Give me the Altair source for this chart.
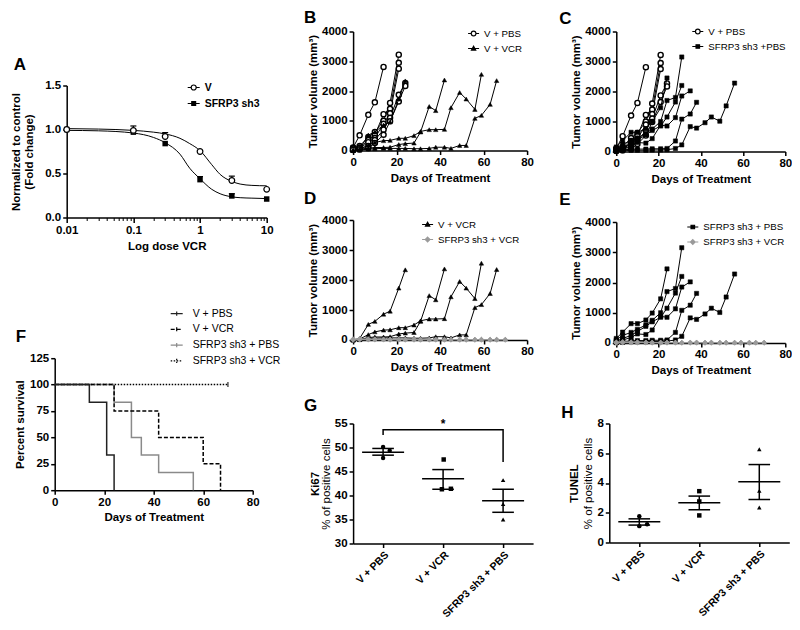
import altair as alt
import pandas as pd

FONT = "Liberation Sans"

# ---------------- Panel A : dose response ----------------
a_doses = [0.01, 0.1, 0.3, 1, 3, 10]
a_v_mean = [1.00, 0.99, 0.92, 0.75, 0.42, 0.32]
a_v_err = [0.0, 0.05, 0.045, 0.0, 0.05, 0.0]
a_sh3_mean = [1.00, 0.97, 0.84, 0.43, 0.245, 0.21]
a_sh3_err = [0.0, 0.02, 0.0, 0.035, 0.025, 0.0]
a_curve_dose = [0.01, 0.03, 0.1, 0.2, 0.3, 0.5, 0.7, 1.0, 1.5, 2, 3, 4, 6, 10]
a_v_curve = [1.01, 1.005, 0.99, 0.97, 0.95, 0.90, 0.84, 0.76, 0.60, 0.49, 0.41, 0.38, 0.365, 0.36]
a_sh3_curve = [0.99, 0.985, 0.96, 0.91, 0.85, 0.72, 0.56, 0.44, 0.32, 0.27, 0.235, 0.225, 0.22, 0.215]
a_major_ticks = [0.01, 0.1, 1, 10]
a_minor_ticks = [0.02, 0.03, 0.04, 0.05, 0.06, 0.07, 0.08, 0.09,
                 0.2, 0.3, 0.4, 0.5, 0.6, 0.7, 0.8, 0.9,
                 2, 3, 4, 5, 6, 7, 8, 9]

# ---------------- Panels B-E : tumour growth ----------------
vpbs_days = [[0, 3, 7, 10, 14],
             [0, 3, 7, 10, 14, 17, 21],
             [0, 3, 7, 10, 14, 17, 21],
             [0, 3, 7, 10, 14, 17, 21],
             [0, 3, 7, 10, 14, 17, 21, 24],
             [0, 3, 7, 10, 14, 17, 21, 24]]
vpbs_vols = [[100, 510, 1200, 1620, 2810],
             [80, 150, 450, 620, 1000, 1600, 3220],
             [50, 100, 350, 520, 1220, 1400, 2950],
             [30, 70, 280, 420, 900, 1250, 2750],
             [60, 80, 150, 350, 700, 1100, 1870, 2270],
             [20, 40, 80, 250, 530, 980, 1650, 2170]]

vvcr_days = [[0, 3, 7, 10, 14, 17, 21, 24],
             [0, 3, 7, 10, 14, 17, 21, 24, 28, 31, 35, 38, 42, 45, 49, 52, 56, 59],
             [0, 3, 7, 10, 14, 17, 21, 24, 28, 31, 35, 38, 42],
             [0, 3, 7, 10, 14, 17, 21, 24, 28, 31, 35, 38, 42, 45, 49, 52, 56, 59, 63, 66]]
vvcr_vols = [[0, 50, 520, 620, 860, 960, 1730, 2340],
             [0, 30, 180, 270, 330, 340, 410, 410, 500, 640, 700, 700, 710, 1440, 1950, 1730, 1380, 2560],
             [0, 20, 80, 100, 100, 110, 200, 230, 250, 620, 1480, 1340, 2370],
             [0, 10, 50, 60, 70, 70, 70, 70, 60, 60, 70, 110, 110, 70, 170, 170, 1080, 1180, 1550, 2350]]

spbs_days = [[0, 3, 7, 10, 14, 17, 21, 24],
             [0, 3, 7, 10, 14, 17, 21, 24, 28, 31],
             [0, 3, 7, 10, 14, 17, 21, 24, 28, 31],
             [0, 3, 7, 10, 14, 17, 21, 24, 28, 31, 35],
             [0, 3, 7, 10, 14, 17, 21, 24, 28, 31, 35, 38],
             [0, 3, 7, 10, 14, 17, 21, 24, 28, 31, 35, 38, 42, 45, 49, 52, 56]]
spbs_vols = [[150, 360, 640, 640, 760, 990, 1460, 2450],
             [100, 250, 350, 450, 600, 750, 1000, 1700, 1800, 3150],
             [60, 150, 250, 380, 550, 700, 850, 1150, 1650, 2200],
             [30, 100, 180, 300, 280, 430, 880, 850, 1130, 1850, 2020],
             [20, 50, 70, 80, 80, 90, 90, 100, 350, 1080, 1250, 1640],
             [10, 20, 40, 40, 40, 50, 50, 60, 100, 220, 830, 780, 960, 1150, 1010, 1520, 2280]]

svcr_days = [[0, 3, 7, 10, 14, 17, 21, 24, 28, 31, 35, 38, 42, 45, 49, 52, 56, 59, 63, 66, 70],
             [0, 3, 7, 10, 14, 17, 21, 24, 28, 31, 35, 38, 42, 45, 49, 52, 56, 59, 63, 66, 70],
             [0, 3, 7, 10, 14, 17, 21, 24, 28, 31, 35, 38, 42, 45, 49, 52, 56, 59, 63, 66, 70]]
svcr_vols = [[30, 40, 30, 20, 20, 20, 20, 20, 10, 10, 20, 20, 10, 10, 10, 10, 10, 10, 10, 10, 10],
             [10, 20, 20, 30, 20, 10, 10, 10, 20, 10, 10, 10, 10, 20, 10, 10, 10, 10, 10, 10, 10],
             [0, 10, 10, 10, 10, 10, 10, 10, 10, 10, 10, 10, 10, 10, 10, 10, 10, 10, 10, 10, 10]]

# ---------------- Panel F : survival ----------------
f_groups = ["V + PBS", "V + VCR", "SFRP3 sh3 + PBS", "SFRP3 sh3 + VCR"]
f_days = [[0, 14, 21, 24], [0, 24, 42, 60, 67], [0, 24, 31, 35, 42, 56], [0, 70]]
f_surv = [[100, 83.3, 33.3, 0], [100, 75, 50, 25, 0], [100, 83.3, 50, 33.3, 16.7, 0], [100, 100]]

# ---------------- Panels G, H : IHC quantification ----------------
cats = ["V + PBS", "V + VCR", "SFRP3 sh3 + PBS"]
g_vals = [[50.1, 49.3, 47.8], [47.5, 41.3, 41.4], [43.2, 38.2, 35.0]]
g_jit = [[0, 0.11, 0], [0.01, -0.02, 0.13], [0, 0, 0]]
g_mean = [49.0, 43.5, 38.9]
g_sem_lo = [48.4, 41.3, 36.5]
g_sem_hi = [49.8, 45.4, 41.3]
g_bracket_x = [0, 0, 2, 2]
g_bracket_y = [52.6, 53.7, 53.7, 47.0]

h_vals = [[1.77, 1.10, 1.23], [3.45, 2.76, 1.82], [6.27, 3.47, 2.35]]
h_jit = [[0, 0, 0.13], [0, 0, 0], [0, 0, 0]]
h_mean = [1.39, 2.67, 4.08]
h_sem_lo = [1.17, 2.20, 2.89]
h_sem_hi = [1.59, 3.12, 5.24]

# ---------------- styling helpers ----------------
P_CIRCLE = "M-1,0L-0.42,0M0.42,0L1,0M-0.42,0A0.42,0.42,0,1,1,0.42,0A0.42,0.42,0,1,1,-0.42,0Z"
P_TRI = "M-1,0L1,0M0,-0.4L0.38,0.28L-0.38,0.28Z"
P_SQ = "M-1,0L1,0M-0.32,-0.32L0.32,-0.32L0.32,0.32L-0.32,0.32Z"
P_DIA = "M-1,0L1,0M0,-0.42L0.42,0L0,0.42L-0.42,0Z"
P_TICK = "M-1,0L1,0M0,-0.35L0,0.35"

STY = {
    "vpbs": dict(shape="circle", fill="white", stroke="black", size=26, sw=1.4, line="black", path=P_CIRCLE),
    "vvcr": dict(shape="triangle-up", fill="black", stroke="black", size=20, sw=0.5, line="black", path=P_TRI),
    "spbs": dict(shape="square", fill="black", stroke="black", size=18, sw=0.5, line="black", path=P_SQ),
    "svcr": dict(shape="diamond", fill="#9a9a9a", stroke="#9a9a9a", size=24, sw=0.5, line="#9a9a9a", path=P_DIA),
}
DATA = {"vpbs": (vpbs_days, vpbs_vols), "vvcr": (vvcr_days, vvcr_vols),
        "spbs": (spbs_days, spbs_vols), "svcr": (svcr_days, svcr_vols)}


def indep(c):
    return c.resolve_scale(shape="independent", fill="independent", stroke="independent",
                           strokeDash="independent")


def letter_title(txt, dx, offset):
    return alt.TitleParams(txt, anchor="start", frame="group", dx=dx, offset=offset,
                           font=FONT, fontSize=17, fontWeight="bold", color="black",
                           baseline="alphabetic")


def legend_layer(labels, paths, strokes, x, y, fills=None, dashes=None, size=121,
                 font_size=9.7, bold=False, row_pad=3, label_offset=4):
    df = pd.DataFrame({"g": labels})
    leg = alt.Legend(orient="none", legendX=x, legendY=y, title=None, labelFont=FONT,
                     labelFontSize=font_size, labelFontWeight="bold" if bold else "normal",
                     labelColor="black", symbolSize=size, symbolStrokeWidth=1.2,
                     rowPadding=row_pad, labelOffset=label_offset, padding=0)
    enc = dict(
        shape=alt.Shape("g:N", scale=alt.Scale(domain=labels, range=paths), legend=leg),
        stroke=alt.Stroke("g:N", scale=alt.Scale(domain=labels, range=strokes), legend=leg),
    )
    if fills is not None:
        enc["fill"] = alt.Fill("g:N", scale=alt.Scale(domain=labels, range=fills), legend=leg)
    if dashes is not None:
        enc["strokeDash"] = alt.StrokeDash("g:N", scale=alt.Scale(domain=labels, range=dashes), legend=leg)
    return (alt.Chart(df).transform_filter("false")
            .mark_point(opacity=1, filled=fills is not None, strokeWidth=1.2)
            .encode(**enc))


def spacer(w, h):
    return (alt.Chart(pd.DataFrame({"s": [0]})).mark_point(opacity=0)
            .encode(x=alt.X("s:Q", axis=None), y=alt.Y("s:Q", axis=None))
            .properties(width=w, height=h))


def mice_df(key):
    days, vols = DATA[key]
    rows = []
    for i, (ds, vs) in enumerate(zip(days, vols)):
        for d, v in zip(ds, vs):
            rows.append({"mouse": f"{key}{i}", "day": d, "vol": v})
    return pd.DataFrame(rows)


def tumor_panel(keys, labels, letter, width, height, x_rng, leg_x, leg_y, tdx, toff):
    xs = alt.Scale(domain=[0, 80], range=x_rng)
    ys = alt.Scale(domain=[0, 4000])
    X = alt.X("day:Q", scale=xs, axis=alt.Axis(values=[0, 20, 40, 60, 80], title="Days of Treatment"))
    Y = alt.Y("vol:Q", scale=ys, axis=alt.Axis(values=[0, 1000, 2000, 3000, 4000], format="d",
                                               title="Tumor volume (mm³)", titlePadding=3,
                                               offset=-x_rng[0]))
    layers = []
    for k in keys:
        st = STY[k]
        df = mice_df(k)
        layers.append(alt.Chart(df).mark_line(color=st["line"], strokeWidth=1)
                      .encode(x=X, y=Y, detail="mouse:N", order="day:Q"))
        layers.append(alt.Chart(df).mark_point(shape=st["shape"], filled=True, fill=st["fill"],
                                               stroke=st["stroke"], strokeWidth=st["sw"],
                                               size=st["size"], opacity=1)
                      .encode(x=X, y=Y))
    layers.append(legend_layer(labels, [STY[k]["path"] for k in keys],
                               [STY[k]["stroke"] for k in keys], leg_x, leg_y,
                               fills=[STY[k]["fill"] for k in keys]))
    return alt.layer(*layers).properties(width=width, height=height,
                                         title=letter_title(letter, tdx, toff))


# ---------------- Panel A chart ----------------
A_XOFF, A_W, A_H = 12, 212, 132
a_pts = pd.DataFrame({"dose": a_doses * 2, "y": a_v_mean + a_sh3_mean,
                      "err": a_v_err + a_sh3_err, "g": ["V"] * 6 + ["SFRP3 sh3"] * 6})
a_pts["hi"] = a_pts["y"] + a_pts["err"]
a_err = a_pts[a_pts["err"] > 0]
a_curves = pd.DataFrame({"dose": a_curve_dose * 2, "y": a_v_curve + a_sh3_curve,
                         "g": ["V"] * len(a_curve_dose) + ["SFRP3 sh3"] * len(a_curve_dose)})
xA_scale = alt.Scale(type="log", domain=[0.01, 10], range=[A_XOFF, A_W])
yA_scale = alt.Scale(domain=[0, 1.5])
yA_axis = alt.Axis(values=[0, 0.5, 1, 1.5], format=".1f",
                   title=["Normalized to control", "(Fold change)"], titlePadding=10, offset=-A_XOFF)
xA_main = alt.X("dose:Q", scale=xA_scale, axis=alt.Axis(values=a_major_ticks, format="~g",
                                                        title="Log dose VCR", tickSize=5))
xA_minor = alt.X("dose:Q", scale=xA_scale, axis=alt.Axis(values=a_minor_ticks, labels=False,
                                                         domain=False, title=None, tickSize=3,
                                                         tickWidth=1, orient="bottom"))
xA_none = alt.X("dose:Q", scale=xA_scale, axis=None)

a_curve_l = alt.Chart(a_curves).mark_line(color="black", strokeWidth=1, interpolate="monotone").encode(
    x=xA_main, y=alt.Y("y:Q", scale=yA_scale, axis=yA_axis), detail="g:N")
a_minor_l = alt.Chart(a_curves).mark_line(strokeOpacity=0).encode(
    x=xA_minor, y=alt.Y("y:Q", scale=yA_scale, axis=yA_axis), detail="g:N")
a_err_l = alt.Chart(a_err).mark_rule(color="black", strokeWidth=1.2).encode(
    x=xA_none, y=alt.Y("y:Q", scale=yA_scale, axis=yA_axis), y2="hi:Q")
a_cap_l = alt.Chart(a_err).mark_tick(orient="horizontal", color="black", size=6, thickness=1.2,
                                     opacity=1).encode(
    x=xA_none, y=alt.Y("hi:Q", scale=yA_scale, axis=yA_axis))
a_sq = alt.Chart(a_pts[a_pts["g"] == "SFRP3 sh3"]).mark_point(shape="square", filled=True, color="black",
                                                             size=30, opacity=1).encode(
    x=xA_none, y=alt.Y("y:Q", scale=yA_scale, axis=yA_axis))
a_ci = alt.Chart(a_pts[a_pts["g"] == "V"]).mark_point(shape="circle", filled=True, fill="white",
                                                     stroke="black", strokeWidth=1.2, size=32,
                                                     opacity=1).encode(
    x=xA_none, y=alt.Y("y:Q", scale=yA_scale, axis=yA_axis))
a_leg = legend_layer(["V", "SFRP3 sh3"], [P_CIRCLE, P_SQ], ["black", "black"], 132, -5,
                     fills=["white", "black"], font_size=10.5, bold=True, size=144)
chartA = (alt.layer(a_curve_l, a_minor_l, a_err_l, a_cap_l, a_sq, a_ci, a_leg)
          .resolve_axis(x="independent")
          .properties(width=A_W, height=A_H, title=letter_title("A", -41, -7.7)))

# ---------------- Panel F chart ----------------
f_colors = ["#222222", "black", "#8a8a8a", "black"]
f_dash = [[1, 0], [4, 2], [1, 0], [1.5, 1.5]]
f_rows = []
for gi, (ds, vs) in enumerate(zip(f_days, f_surv)):
    for d, v in zip(ds, vs):
        f_rows.append({"g": f_groups[gi], "day": d, "s": v})
f_df = pd.DataFrame(f_rows)
xF = alt.X("day:Q", scale=alt.Scale(domain=[0, 80]),
           axis=alt.Axis(values=[0, 20, 40, 60, 80], title="Days of Treatment"))
yF = alt.Y("s:Q", scale=alt.Scale(domain=[0, 125]),
           axis=alt.Axis(values=[0, 25, 50, 75, 100, 125], title="Percent survival", titlePadding=4))
f_layers = []
for gi in [3, 2, 1, 0]:
    f_layers.append(alt.Chart(f_df[f_df["g"] == f_groups[gi]])
                    .mark_line(interpolate="step-after", color=f_colors[gi], strokeDash=f_dash[gi],
                               strokeWidth=1.5)
                    .encode(x=xF, y=yF, order="day:Q"))
f_end = f_df[f_df["g"] == f_groups[3]].tail(1)
f_layers.append(alt.Chart(f_end).mark_tick(orient="vertical", color="black", size=5, thickness=1,
                                           opacity=1).encode(x=xF, y=yF))
f_layers.append(legend_layer(f_groups, [P_TICK] * 4, f_colors, 115, -51.5, dashes=f_dash,
                             size=144, font_size=10.5, row_pad=2.7, label_offset=9))
chartF = alt.layer(*f_layers).properties(width=198, height=132, title=letter_title("F", -39, -52.7))


# ---------------- Panels G / H ----------------
def scatter_panel(vals, jit, means, lo, hi, ydom, yvals, main_title, letter, width, height,
                  tdx, toff, main_x, bracket=None):
    rows = []
    for i in range(3):
        for k in range(len(vals[i])):
            rows.append({"x": i + jit[i][k], "v": vals[i][k], "cat": cats[i]})
    pts = pd.DataFrame(rows)
    stats = pd.DataFrame({"i": list(range(3)), "m": means, "lo": lo, "hi": hi})
    caps = pd.DataFrame({"i": list(range(3)) * 2, "c": lo + hi})
    xs = alt.Scale(domain=[-0.5, 2.5])
    ys = alt.Scale(domain=ydom)
    lab_expr = " : ".join(f"datum.value == {i} ? '{c}'" for i, c in enumerate(cats[:-1])) + f" : '{cats[-1]}'"
    x_axis = alt.Axis(values=[0, 1, 2], labelExpr=lab_expr, labelAngle=-45, labelAlign="right",
                      labelBaseline="top", title=None, tickSize=4, labelOverlap=False,
                      labelFontSize=10.5)
    pts_l = alt.Chart(pts).mark_point(filled=True, color="black", size=20, opacity=1).encode(
        x=alt.X("x:Q", scale=xs, axis=x_axis),
        y=alt.Y("v:Q", scale=ys, axis=alt.Axis(values=yvals, title="% of positive cells",
                                               titleFontWeight="normal", titlePadding=3)),
        shape=alt.Shape("cat:N", scale=alt.Scale(domain=cats, range=["circle", "square", "triangle-up"]),
                        legend=None))
    mean_l = (alt.Chart(stats)
              .transform_calculate(a="datum.i - 0.35", b="datum.i + 0.35")
              .mark_rule(color="black", strokeWidth=1.5)
              .encode(x=alt.X("a:Q", scale=xs, axis=x_axis), x2="b:Q",
                      y=alt.Y("m:Q", scale=ys, axis=alt.Axis(orient="left", title=main_title, labels=False,
                                                             ticks=False, domain=False,
                                                             titleX=main_x, titleY=height / 2))))
    cap_l = (alt.Chart(caps)
             .transform_calculate(a="datum.i - 0.18", b="datum.i + 0.18")
             .mark_rule(color="black", strokeWidth=1.5)
             .encode(x=alt.X("a:Q", scale=xs, axis=x_axis), x2="b:Q",
                     y=alt.Y("c:Q", scale=ys, axis=None)))
    vert_l = (alt.Chart(stats).mark_rule(color="black", strokeWidth=1.5)
              .encode(x=alt.X("i:Q", scale=xs, axis=x_axis), y=alt.Y("lo:Q", scale=ys, axis=None), y2="hi:Q"))
    layers = [pts_l, mean_l, cap_l, vert_l]
    if bracket is not None:
        bx, by = bracket
        bdf = pd.DataFrame({"x": bx, "y": by, "o": list(range(len(bx)))})
        layers.append(alt.Chart(bdf).mark_line(color="black", strokeWidth=1.5)
                      .encode(x=alt.X("x:Q", scale=xs, axis=x_axis), y=alt.Y("y:Q", scale=ys, axis=None),
                              order="o:Q"))
        sdf = pd.DataFrame({"x": [(bx[0] + bx[-1]) / 2], "y": [max(by)], "t": ["*"]})
        layers.append(alt.Chart(sdf).mark_text(font=FONT, fontSize=12, fontWeight="bold", color="black",
                                               baseline="bottom", dy=1)
                      .encode(x=alt.X("x:Q", scale=xs, axis=x_axis), y=alt.Y("y:Q", scale=ys, axis=None),
                              text="t:N"))
    return (alt.layer(*layers).resolve_axis(y="independent")
            .properties(width=width, height=height, title=letter_title(letter, tdx, toff)))


chartG = scatter_panel(g_vals, g_jit, g_mean, g_sem_lo, g_sem_hi, [30, 55], [30, 35, 40, 45, 50, 55],
                       "Ki67", "G", 180, 120, -49, -11, -33, bracket=(g_bracket_x, g_bracket_y))
chartH = scatter_panel(h_vals, h_jit, h_mean, h_sem_lo, h_sem_hi, [0, 8], [0, 2, 4, 6, 8],
                       "TUNEL", "H", 180, 119, -48, -17.6, -30)

# ---------------- tumour panels ----------------
chartB = tumor_panel(["vpbs", "vvcr"], ["V + PBS", "V + VCR"], "B", 174, 119, [0, 174], 114, -4.5, -49, -14.8)
chartC = tumor_panel(["vpbs", "spbs"], ["V + PBS", "SFRP3 sh3 +PBS"], "C", 180, 120, [7, 176], 82, -6.5, -50, -15.8)
chartD = tumor_panel(["vvcr", "svcr"], ["V + VCR", "SFRP3 sh3 + VCR"], "D", 174, 120, [0, 174], 68, -2, -49, -6.6)
chartE = tumor_panel(["spbs", "svcr"], ["SFRP3 sh3 + PBS", "SFRP3 sh3 + VCR"], "E", 180, 121, [7, 176], 77, -1.5, -50, -5.5)

# ---------------- layout ----------------
col1 = indep(alt.vconcat(spacer(10, 23.8), indep(alt.vconcat(chartA, chartF, spacing=54.7)), spacing=0))
col2 = indep(alt.vconcat(indep(alt.vconcat(chartB, chartD, spacing=5.5)), chartG, spacing=24))
col3 = indep(alt.vconcat(indep(alt.vconcat(chartC, chartE, spacing=5.5)), chartH, spacing=27))

chart = (indep(alt.hconcat(col1, indep(alt.hconcat(col2, col3, spacing=25.2)), spacing=23.4))
         .properties(padding={"left": 1.7, "top": 0.5, "right": 0, "bottom": 0})
         .configure_view(stroke=None)
         .configure_axis(labelFont=FONT, labelFontSize=11.5, labelFontWeight="bold", labelColor="black",
                         titleFont=FONT, titleFontSize=11.5, titleFontWeight="bold", titleColor="black",
                         domainColor="black", domainWidth=1.5, tickColor="black", tickWidth=1.5,
                         tickSize=4, grid=False, labelPadding=2)
         .configure_axisX(labelFlush=False)
         .configure_legend(labelFont=FONT, labelColor="black"))

chart.save("out.html", embed_options={"renderer": "svg", "actions": False})
